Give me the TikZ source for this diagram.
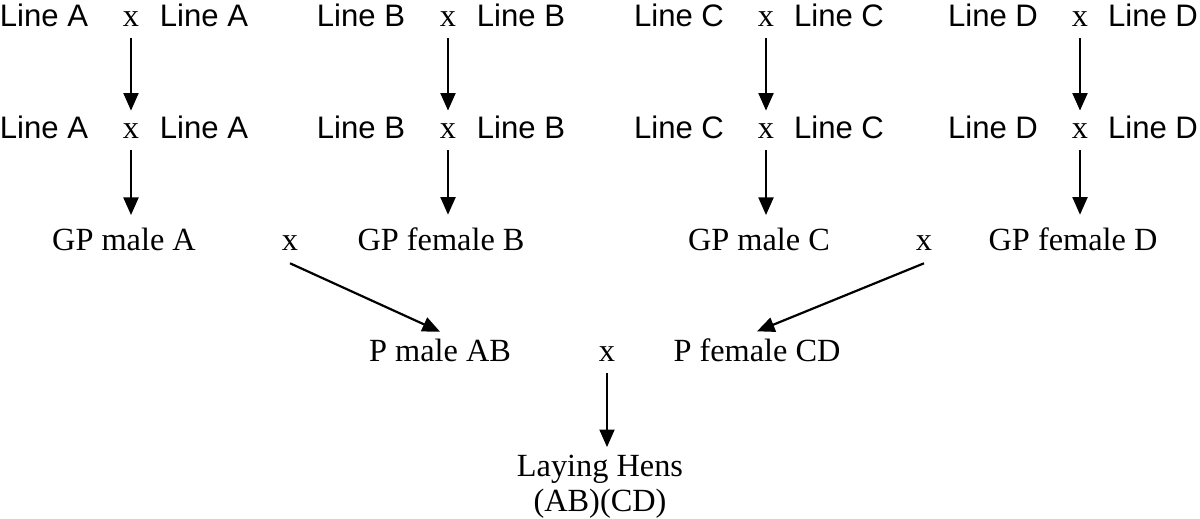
\documentclass[tikz,border=0pt]{standalone}
\usepackage{fontspec}
\setmainfont{Liberation Serif}
\setsansfont{Liberation Sans}
\usetikzlibrary{arrows.meta}

\begin{document}
\begin{tikzpicture}[
    x=0.02cm, y=-0.02cm,
    line/.style={inner sep=0, anchor=base, font=\sffamily\fontsize{17.7}{20}\selectfont},
    lbl/.style={inner sep=0, anchor=base, font=\fontsize{18.4}{20}\selectfont},
    cross/.style={lbl},
    arrow/.style={-{Triangle[length=10pt,width=8.5pt]}, line width=1.25pt},
    down/.style={arrow, shorten <=6pt, shorten >=7.5pt}
]
    \useasboundingbox (0,0) rectangle (1200,519);

    % pure lines, first generation
    \node[line] (lineA1l) at (44,27) {Line A};
    \node[cross] (xA1) at (131,27) {x};
    \node[line] (lineA1r) at (204,27) {Line A};
    \node[line] (lineB1l) at (361,27) {Line B};
    \node[cross] (xB1) at (448,27) {x};
    \node[line] (lineB1r) at (521,27) {Line B};
    \node[line] (lineC1l) at (679,27) {Line C};
    \node[cross] (xC1) at (766,27) {x};
    \node[line] (lineC1r) at (839,27) {Line C};
    \node[line] (lineD1l) at (993,27) {Line D};
    \node[cross] (xD1) at (1080,27) {x};
    \node[line] (lineD1r) at (1153,27) {Line D};

    % pure lines, second generation
    \node[line] (lineA2l) at (44,139) {Line A};
    \node[cross] (xA2) at (131,139) {x};
    \node[line] (lineA2r) at (204,139) {Line A};
    \node[line] (lineB2l) at (361,139) {Line B};
    \node[cross] (xB2) at (448,139) {x};
    \node[line] (lineB2r) at (521,139) {Line B};
    \node[line] (lineC2l) at (679,139) {Line C};
    \node[cross] (xC2) at (766,139) {x};
    \node[line] (lineC2r) at (839,139) {Line C};
    \node[line] (lineD2l) at (993,139) {Line D};
    \node[cross] (xD2) at (1080,139) {x};
    \node[line] (lineD2r) at (1153,139) {Line D};

    % grandparents
    \node[lbl] (gpA) at (124,251) {GP male A};
    \node[cross] (xGP1) at (290,251) {x};
    \node[lbl] (gpB) at (441,251) {GP female B};
    \node[lbl] (gpC) at (759,251) {GP male C};
    \node[cross] (xGP2) at (924,251) {x};
    \node[lbl] (gpD) at (1073,251) {GP female D};

    % parents
    \node[lbl] (pAB) at (440,362) {P male AB};
    \node[cross] (xP) at (607,362) {x};
    \node[lbl] (pCD) at (757,362) {P female CD};

    % commercial layers
    \node[lbl, anchor=north, align=center] (hens) at (600,455) {Laying Hens\\(AB)(CD)};

    \draw[down] (xA1) -- (xA2);
    \draw[down] (xB1) -- (xB2);
    \draw[down] (xC1) -- (xC2);
    \draw[down] (xD1) -- (xD2);

    \draw[down] (xA2.south) -- (xA2.south |- gpA.north);
    \draw[down] (xB2.south) -- (xB2.south |- gpB.north);
    \draw[down] (xC2.south) -- (xC2.south |- gpC.north);
    \draw[down] (xD2.south) -- (xD2.south |- gpD.north);

    \draw[arrow] ([yshift=-6.8pt]xGP1.south) -- ([yshift=4.3pt]pAB.north);
    \draw[arrow] ([yshift=-6.8pt]xGP2.south) -- ([yshift=4.3pt]pCD.north);

    \draw[arrow, shorten <=6.3pt, shorten >=4.5pt] (xP.south) -- (xP.south |- hens.north);
\end{tikzpicture}
\end{document}
